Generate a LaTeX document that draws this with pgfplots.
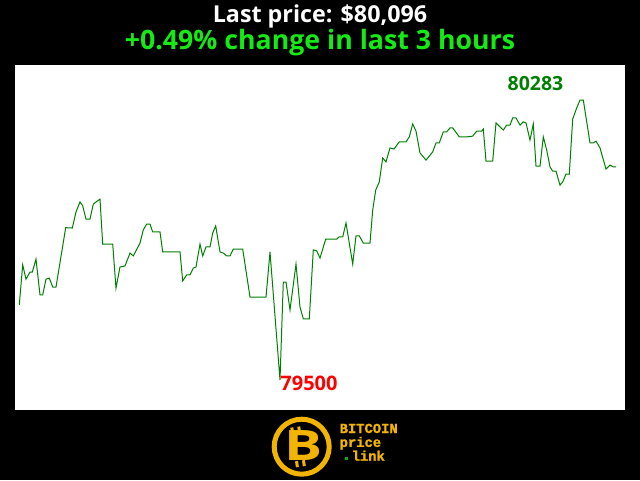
\documentclass[border=0pt]{standalone}
\usepackage{pgfplots}
\pgfplotsset{compat=1.18}
\usepackage{fontspec}
\setmainfont{Open Sans}
\newfontfamily\os{Open Sans}
\newfontfamily\logofont{Liberation Mono}[BoldFeatures={FakeBold=1.5}]
\definecolor{linegreen}{RGB}{0,128,0}
\definecolor{titlegreen}{RGB}{20,235,20}
\definecolor{gold}{RGB}{242,180,0}
\begin{document}
\begin{tikzpicture}[x=1pt,y=1pt]
\fill[black] (0,0) rectangle (640,480);
\useasboundingbox (0,0) rectangle (640,480);
\node[anchor=base,text=white,font=\os\bfseries\fontsize{23.3}{26}\selectfont,inner sep=0pt] at (320,457) {Last price: \$80,096};
\node[anchor=base,text=titlegreen,font=\os\bfseries\fontsize{26.7}{30}\selectfont,inner sep=0pt] at (320,430) {+0.49\% change in last 3 hours};
\begin{axis}[
  at={(15pt,70pt)}, anchor=south west,
  width=610pt, height=345pt, scale only axis,
  xmin=15, xmax=625, ymin=79416, ymax=80381,
  axis background/.style={fill=white},
  axis line style={draw=none},
  xtick=\empty, ytick=\empty,
  clip=false,
]
\addplot[color=linegreen, line width=1pt, mark=none] coordinates {
(19.3,79710) (22.7,79822) (26,79782) (30,79802) (32.3,79802) (36,79838)
(40,79738) (42.7,79738) (46,79782) (49.3,79785) (52.7,79760) (56,79760)
(65.7,79926) (72.3,79925) (76,79970) (80,79998) (82.7,79987) (86,79950)
(90,79950) (93.3,79992) (100,80006) (102.7,79880) (112.7,79880) (116,79757)
(120,79816) (125,79819) (130,79855) (133.3,79847) (140,79883) (143.3,79920)
(146.7,79936) (150,79936) (152.7,79914) (160,79914) (162.7,79858) (180,79858)
(182.7,79777) (186.7,79794) (190,79794) (193.3,79813) (196,79816) (200,79880)
(202.7,79847) (206,79872) (210,79872) (212.7,79911) (215.7,79931) (220,79858)
(223.3,79855) (226.7,79847) (230,79847) (233.3,79866) (242.7,79866) (250,79732)
(266,79732) (270,79858) (280,79500) (283.3,79774) (286,79774) (290,79696)
(296,79824) (300,79704) (303.3,79671) (309.3,79671) (313.3,79864) (316.7,79861)
(320,79841) (325.7,79894) (336.7,79894) (339,79900) (342.7,79900) (346,79939)
(352.7,79824) (356,79903) (359.3,79903) (363.3,79883) (370,79883) (372.7,79975)
(375.7,80031) (379.3,80054) (382.7,80121) (386,80110) (390,80149) (394,80146)
(399.3,80166) (406,80166) (409.3,80180) (412.7,80216) (416,80196) (420,80135)
(426,80115) (432.7,80138) (436,80163) (439.3,80163) (443.3,80194) (446.7,80194)
(450,80205) (452.7,80205) (459.3,80180) (466.7,80180) (472.7,80182) (476.7,80196)
(481.7,80196) (483.3,80202) (486,80112) (492.7,80112) (496,80219) (503.3,80199)
(506.7,80213) (510,80213) (512.7,80233) (516,80233) (520,80213) (523.3,80222)
(526,80219) (530,80171) (533.3,80216) (536,80098) (540,80098) (543.3,80180)
(546.7,80143) (550,80096) (552.7,80084) (556,80084) (560,80045) (562.7,80054)
(566,80076) (569.3,80076) (572.7,80230) (576.7,80261) (580,80283) (583.3,80283)
(590,80163) (593.3,80163) (596,80168) (600,80149) (606,80090) (610,80101)
(613.3,80096) (616,80096)
};
\node[text=linegreen,font=\os\bfseries\fontsize{19.5}{22}\selectfont,inner sep=0pt] at (axis cs:535.5,80330) {80283};
\node[text=red,font=\os\bfseries\fontsize{20}{22}\selectfont,inner sep=0pt] at (axis cs:309,79491) {79500};
\end{axis}
% logo
\draw[gold, line width=5pt] (301.7,33.3) circle (27.5);
\begin{scope}[shift={(304,34)}, rotate=8]
\fill[gold] (-11,14) rectangle (-8,20);
\fill[gold] (-4,14) rectangle (-1,20);
\fill[gold] (-11,-20) rectangle (-8,-14);
\fill[gold] (-4,-20) rectangle (-1,-14);
\node[text=gold,font=\os\bfseries\fontsize{42}{42}\selectfont,inner sep=0pt,xscale=1.35] at (0,0) {B};
\end{scope}
\node[anchor=base west,text=gold,align=left,font=\logofont\bfseries\fontsize{13.8}{13.85}\selectfont,inner sep=0pt] at (339.5,19.3) {BITCOIN\\price\\\hspace*{12pt}link};
\fill[green!70!black] (344.5,20.5) rectangle (347.5,23.5);
\end{tikzpicture}
\end{document}
